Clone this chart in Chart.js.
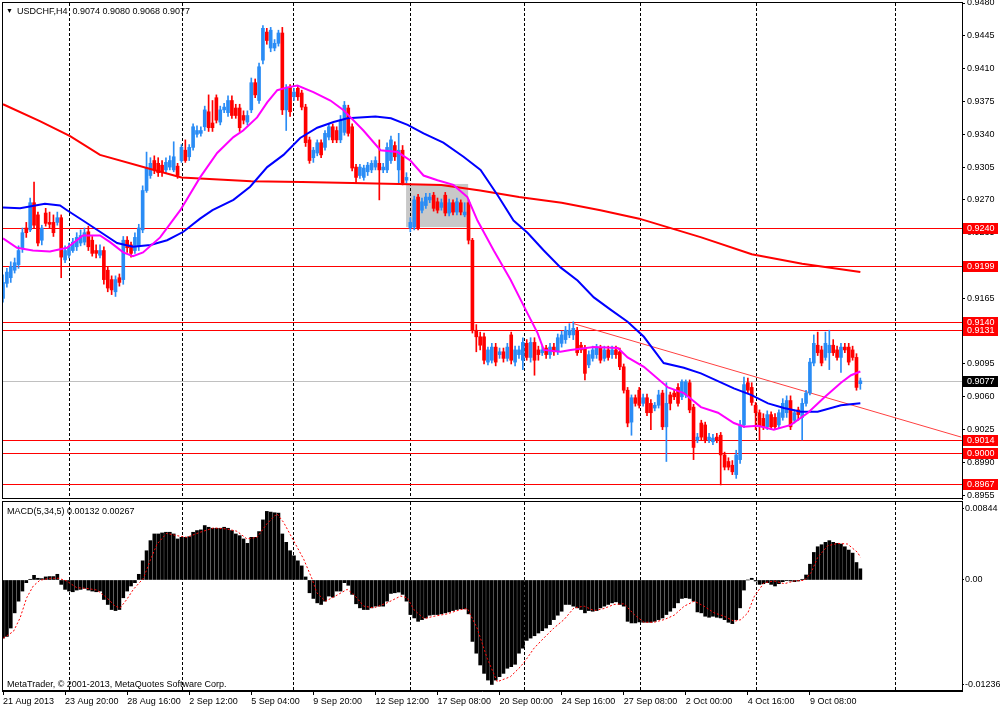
<!doctype html>
<html lang="en">
<head>
<meta charset="utf-8">
<title>USDCHF,H4</title>
<script src="https://cdn.jsdelivr.net/npm/chart.js@4.4.1/dist/chart.umd.min.js"></script>
<style>
  html, body { margin: 0; padding: 0; background: #fff; }
  #wrap { position: relative; width: 1000px; height: 709px; overflow: hidden; background: #fff; }
  canvas { position: absolute; left: 0; }
  #priceChart { top: 0; }
  #macdChart { top: 500px; }
</style>
</head>
<body>
<div id="wrap">
  <canvas id="priceChart" width="1000" height="500"></canvas>
  <canvas id="macdChart" width="1000" height="209"></canvas>
</div>
<script>
// H4 candles, bar index 0 = 21 Aug 2013
const opens = [
  0.9165,0.9181,0.9187,0.9195,0.9201,0.9219,0.9240,0.9238,0.9267,0.9254,
  0.9227,0.9256,0.9246,0.9246,0.9246,0.9251,0.9206,0.9211,0.9216,0.9220,
  0.9224,0.9225,0.9236,0.9227,0.9216,0.9211,0.9216,0.9195,0.9185,0.9172,
  0.9187,0.9185,0.9227,0.9222,0.9216,0.9220,0.9238,0.9280,0.9296,0.9312,
  0.9309,0.9307,0.9302,0.9305,0.9302,0.9306,0.9312,0.9323,0.9316,0.9326,
  0.9340,0.9341,0.9348,0.9364,0.9352,0.9379,0.9353,0.9366,0.9363,0.9376,
  0.9368,0.9368,0.9360,0.9353,0.9366,0.9395,0.9376,0.9419,0.9449,0.9432,
  0.9432,0.9437,0.9448,0.9366,0.9390,0.9380,0.9389,0.9384,0.9369,0.9334,
  0.9315,0.9320,0.9331,0.9326,0.9337,0.9348,0.9344,0.9334,0.9342,0.9368,
  0.9348,0.9305,0.9296,0.9294,0.9300,0.9302,0.9305,0.9309,0.9302,0.9302,
  0.9312,0.9328,0.9302,0.9323,0.9291,0.9240,0.9241,0.9273,0.9259,0.9264,
  0.9270,0.9275,0.9268,0.9262,0.9275,0.9256,0.9267,0.9257,0.9267,0.9254,
  0.9267,0.9227,0.9131,0.9124,0.9124,0.9097,0.9099,0.9113,0.9105,0.9108,
  0.9101,0.9126,0.9097,0.9105,0.9099,0.9117,0.9102,0.9118,0.9110,0.9107,
  0.9112,0.9105,0.9113,0.9108,0.9117,0.9121,0.9126,0.9126,0.9131,0.9115,
  0.9112,0.9094,0.9101,0.9105,0.9112,0.9101,0.9110,0.9105,0.9110,0.9108,
  0.9092,0.9067,0.9033,0.9059,0.9067,0.9053,0.9059,0.9053,0.9048,0.9051,
  0.9064,0.9028,0.9062,0.9064,0.9070,0.9060,0.9062,0.9075,0.9049,0.9014,
  0.9032,0.9030,0.9014,0.9012,0.9017,0.9019,0.8998,0.8991,0.8987,0.8977,
  0.8993,0.9030,0.9075,0.9070,0.9051,0.9043,0.9037,0.9028,0.9041,0.9038,
  0.9030,0.9038,0.9043,0.9056,0.9035,0.9046,0.9038,0.9053,0.9064,0.9096,
  0.9115,0.9110,0.9102,0.9107,0.9115,0.9110,0.9102,0.9113,0.9113,0.9110,
  0.9102,0.9074
];
const highs = [
  0.9190,0.9197,0.9204,0.9208,0.9221,0.9240,0.9246,0.9272,0.9289,0.9257,
  0.9243,0.9261,0.9257,0.9254,0.9257,0.9254,0.9221,0.9224,0.9229,0.9235,
  0.9238,0.9240,0.9242,0.9231,0.9222,0.9222,0.9220,0.9199,0.9189,0.9189,
  0.9191,0.9231,0.9231,0.9225,0.9235,0.9244,0.9285,0.9321,0.9315,0.9317,
  0.9315,0.9312,0.9315,0.9317,0.9332,0.9309,0.9329,0.9334,0.9329,0.9351,
  0.9349,0.9348,0.9370,0.9382,0.9376,0.9382,0.9370,0.9373,0.9381,0.9381,
  0.9372,0.9372,0.9365,0.9365,0.9400,0.9399,0.9416,0.9456,0.9453,0.9454,
  0.9441,0.9451,0.9454,0.9393,0.9393,0.9389,0.9392,0.9387,0.9372,0.9337,
  0.9326,0.9334,0.9334,0.9344,0.9351,0.9351,0.9348,0.9360,0.9375,0.9371,
  0.9351,0.9308,0.9308,0.9307,0.9310,0.9312,0.9316,0.9334,0.9309,0.9331,
  0.9338,0.9332,0.9341,0.9328,0.9299,0.9251,0.9274,0.9276,0.9272,0.9277,
  0.9277,0.9278,0.9272,0.9271,0.9278,0.9271,0.9270,0.9272,0.9270,0.9267,
  0.9270,0.9229,0.9137,0.9129,0.9128,0.9113,0.9117,0.9117,0.9112,0.9112,
  0.9117,0.9129,0.9114,0.9114,0.9123,0.9121,0.9123,0.9123,0.9114,0.9114,
  0.9115,0.9117,0.9117,0.9127,0.9130,0.9135,0.9138,0.9140,0.9134,0.9118,
  0.9115,0.9109,0.9114,0.9116,0.9115,0.9114,0.9114,0.9114,0.9114,0.9112,
  0.9095,0.9070,0.9062,0.9062,0.9070,0.9063,0.9063,0.9057,0.9054,0.9067,
  0.9067,0.9075,0.9065,0.9067,0.9074,0.9078,0.9078,0.9078,0.9052,0.9021,
  0.9035,0.9033,0.9021,0.9020,0.9021,0.9022,0.9001,0.8995,0.8992,0.9003,
  0.9035,0.9081,0.9080,0.9075,0.9054,0.9046,0.9042,0.9045,0.9044,0.9042,
  0.9046,0.9058,0.9061,0.9061,0.9046,0.9049,0.9058,0.9067,0.9101,0.9126,
  0.9129,0.9114,0.9129,0.9131,0.9121,0.9114,0.9117,0.9117,0.9117,0.9114,
  0.9106,0.9080
];
const lows = [
  0.9161,0.9177,0.9182,0.9192,0.9197,0.9214,0.9230,0.9236,0.9240,0.9221,
  0.9222,0.9242,0.9240,0.9231,0.9243,0.9187,0.9203,0.9208,0.9214,0.9216,
  0.9221,0.9222,0.9216,0.9210,0.9208,0.9208,0.9180,0.9172,0.9169,0.9167,
  0.9178,0.9180,0.9214,0.9209,0.9213,0.9216,0.9235,0.9278,0.9293,0.9298,
  0.9295,0.9295,0.9299,0.9302,0.9300,0.9293,0.9310,0.9310,0.9312,0.9323,
  0.9337,0.9338,0.9344,0.9343,0.9343,0.9352,0.9350,0.9363,0.9359,0.9357,
  0.9357,0.9343,0.9351,0.9350,0.9363,0.9379,0.9373,0.9415,0.9436,0.9428,
  0.9429,0.9434,0.9361,0.9344,0.9359,0.9376,0.9376,0.9366,0.9327,0.9309,
  0.9310,0.9317,0.9315,0.9323,0.9334,0.9331,0.9331,0.9331,0.9339,0.9338,
  0.9301,0.9288,0.9293,0.9291,0.9296,0.9299,0.9302,0.9270,0.9299,0.9299,
  0.9309,0.9312,0.9288,0.9286,0.9288,0.9236,0.9238,0.9238,0.9256,0.9261,
  0.9267,0.9258,0.9256,0.9259,0.9253,0.9253,0.9254,0.9254,0.9254,0.9252,
  0.9223,0.9128,0.9108,0.9110,0.9095,0.9094,0.9096,0.9093,0.9101,0.9097,
  0.9098,0.9095,0.9093,0.9101,0.9089,0.9099,0.9097,0.9083,0.9099,0.9104,
  0.9101,0.9101,0.9104,0.9105,0.9113,0.9117,0.9123,0.9121,0.9104,0.9107,
  0.9078,0.9091,0.9098,0.9101,0.9096,0.9098,0.9099,0.9101,0.9101,0.9089,
  0.9064,0.9028,0.9019,0.9050,0.9048,0.9050,0.9040,0.9025,0.9045,0.9048,
  0.9025,0.8991,0.9046,0.9057,0.9050,0.9057,0.9059,0.9043,0.8993,0.9011,
  0.9014,0.9011,0.9011,0.9009,0.9011,0.8966,0.8982,0.8982,0.8977,0.8973,
  0.8989,0.9027,0.9064,0.9051,0.9025,0.9014,0.9025,0.9025,0.9025,0.9025,
  0.9027,0.9035,0.9038,0.9025,0.9032,0.9035,0.9014,0.9050,0.9062,0.9093,
  0.9104,0.9093,0.9099,0.9089,0.9104,0.9099,0.9086,0.9107,0.9094,0.9099,
  0.9067,0.9068
];
const closes = [
  0.9182,0.9193,0.9199,0.9203,0.9216,0.9235,0.9235,0.9267,0.9243,0.9224,
  0.9240,0.9245,0.9244,0.9235,0.9251,0.9209,0.9216,0.9220,0.9225,0.9230,
  0.9232,0.9235,0.9220,0.9213,0.9213,0.9216,0.9185,0.9176,0.9174,0.9185,
  0.9182,0.9227,0.9219,0.9213,0.9230,0.9240,0.9280,0.9304,0.9309,0.9302,
  0.9299,0.9300,0.9310,0.9312,0.9316,0.9296,0.9326,0.9312,0.9326,0.9348,
  0.9344,0.9344,0.9366,0.9347,0.9347,0.9355,0.9366,0.9369,0.9376,0.9360,
  0.9360,0.9347,0.9355,0.9360,0.9395,0.9382,0.9412,0.9453,0.9440,0.9451,
  0.9437,0.9448,0.9366,0.9389,0.9364,0.9385,0.9380,0.9369,0.9331,0.9312,
  0.9323,0.9331,0.9318,0.9341,0.9348,0.9334,0.9334,0.9355,0.9371,0.9341,
  0.9304,0.9294,0.9305,0.9304,0.9307,0.9309,0.9312,0.9302,0.9305,0.9326,
  0.9334,0.9316,0.9323,0.9288,0.9294,0.9246,0.9270,0.9240,0.9268,0.9273,
  0.9273,0.9261,0.9259,0.9267,0.9256,0.9267,0.9257,0.9268,0.9257,0.9257,
  0.9227,0.9131,0.9124,0.9115,0.9099,0.9110,0.9113,0.9097,0.9108,0.9101,
  0.9113,0.9099,0.9110,0.9110,0.9118,0.9102,0.9118,0.9099,0.9105,0.9110,
  0.9105,0.9113,0.9108,0.9123,0.9126,0.9131,0.9131,0.9133,0.9107,0.9110,
  0.9085,0.9105,0.9110,0.9112,0.9099,0.9110,0.9102,0.9110,0.9105,0.9092,
  0.9067,0.9032,0.9059,0.9053,0.9051,0.9059,0.9043,0.9043,0.9051,0.9062,
  0.9028,0.9053,0.9053,0.9060,0.9053,0.9076,0.9076,0.9046,0.9006,0.9017,
  0.9017,0.9014,0.9017,0.9016,0.9014,0.8998,0.8985,0.8985,0.8980,0.8998,
  0.9030,0.9073,0.9067,0.9054,0.9043,0.9028,0.9028,0.9041,0.9028,0.9028,
  0.9043,0.9053,0.9056,0.9028,0.9043,0.9041,0.9053,0.9064,0.9097,0.9117,
  0.9107,0.9096,0.9117,0.9115,0.9107,0.9102,0.9113,0.9110,0.9097,0.9102,
  0.9070,0.9077
];

// moving averages (bar index, price)
const redMaX = [0, 9.5, 17.3, 25, 38, 46, 64, 77, 90, 102, 113, 123, 133, 144, 154, 164, 180, 193, 206, 221];
const redMaY = [0.9372, 0.9354, 0.9338, 0.9318, 0.9303, 0.9294, 0.9290, 0.9289, 0.9288, 0.9287,
                0.9286, 0.9280, 0.9273, 0.9267, 0.9259, 0.9250, 0.9230, 0.9212, 0.9202, 0.9193];
const blueMaX = [0, 4.4, 10.8, 14.7, 16.5, 20.6, 25, 29.4, 33.5, 38, 42.3, 46.5, 50.8, 54, 59.4, 63.7, 68.1,
                 72.3, 76.6, 81, 85.2, 88.8, 96, 100, 104.3, 108.4, 113.5, 118.7, 123.1, 127.5, 131.6, 135.2,
                 139.4, 143.7, 148.1, 152.3, 156.6, 161, 165.2, 170.3, 175.5, 179.9, 188.4, 192.8, 197.2,
                 201.3, 205.7, 210, 216, 221];
const blueMaY = [0.9262, 0.9261, 0.9266, 0.9264, 0.9259, 0.9248, 0.9236, 0.9224, 0.9220, 0.9222, 0.9227,
                 0.9236, 0.9250, 0.9259, 0.9270, 0.9284, 0.9305, 0.9318, 0.9336, 0.9347, 0.9353, 0.9357,
                 0.9359, 0.9357, 0.9350, 0.9341, 0.9331, 0.9316, 0.9302, 0.9275, 0.9248, 0.9235, 0.9216,
                 0.9198, 0.9184, 0.9166, 0.9153, 0.9140, 0.9124, 0.9096, 0.9091, 0.9085, 0.9069, 0.9062,
                 0.9053, 0.9048, 0.9044, 0.9044, 0.9051, 0.9053];
const magMaX = [0, 3.6, 7.7, 12.1, 16.5, 20.6, 25, 27.6, 31, 33.5, 36.1, 40.5, 45.7, 50.8, 55.2, 59.4, 61.9,
                65.5, 68.1, 70.7, 73.3, 75.9, 80, 84.4, 87.7, 92.9, 97.3, 101.7, 105, 108.4, 112, 116.1,
                119.7, 122.3, 126.5, 130.8, 135.2, 137.8, 139.4, 143.7, 146.3, 152.3, 158.5, 161, 165.2,
                171.4, 175.5, 179.9, 184.3, 188.4, 191, 194.6, 198.7, 203.1, 207.5, 211.6, 216, 218.6, 221];
const magMaY = [0.9229, 0.9219, 0.9216, 0.9215, 0.9219, 0.9232, 0.9232, 0.9225, 0.9214, 0.9210, 0.9214,
                0.9230, 0.9259, 0.9294, 0.9320, 0.9337, 0.9344, 0.9358, 0.9374, 0.9387, 0.9390, 0.9392,
                0.9385, 0.9376, 0.9366, 0.9344, 0.9323, 0.9321, 0.9312, 0.9296, 0.9291, 0.9286, 0.9273,
                0.9248, 0.9216, 0.9185, 0.9149, 0.9128, 0.9110, 0.9108, 0.9110, 0.9113, 0.9112, 0.9102,
                0.9092, 0.9070, 0.9064, 0.9049, 0.9043, 0.9032, 0.9028, 0.9029, 0.9025, 0.9030, 0.9043,
                0.9059, 0.9075, 0.9083, 0.9087];

// drawn objects
const levels = [0.9240, 0.9199, 0.9140, 0.9131, 0.9014, 0.9000, 0.8967];
const trendX = [147.1, 247];
const trendY = [0.9138, 0.9017];
const boxX = [103.9, 119.9];
const boxY = [0.9287, 0.9241];

// MACD(5,34,5)
const macdHist = [
  -0.00686,-0.00666,-0.00567,-0.00388,-0.00250,-0.00131,-0.00032,0.00008,0.00055,0.00020,
  0.00016,0.00036,0.00040,0.00040,0.00067,-0.00052,-0.00111,-0.00131,-0.00139,-0.00119,
  -0.00111,-0.00099,-0.00119,-0.00131,-0.00139,-0.00131,-0.00230,-0.00289,-0.00349,-0.00361,
  -0.00349,-0.00210,-0.00131,-0.00071,-0.00032,0.00067,0.00226,0.00345,0.00464,0.00543,
  0.00543,0.00555,0.00563,0.00563,0.00543,0.00484,0.00503,0.00503,0.00511,0.00563,
  0.00583,0.00591,0.00642,0.00622,0.00610,0.00610,0.00610,0.00622,0.00610,0.00583,
  0.00543,0.00523,0.00484,0.00432,0.00503,0.00503,0.00571,0.00709,0.00809,0.00801,
  0.00793,0.00789,0.00543,0.00444,0.00345,0.00285,0.00226,0.00166,0.00036,-0.00151,
  -0.00218,-0.00270,-0.00289,-0.00250,-0.00190,-0.00202,-0.00131,-0.00131,-0.00032,-0.00063,
  -0.00170,-0.00281,-0.00329,-0.00349,-0.00349,-0.00329,-0.00309,-0.00309,-0.00309,-0.00250,
  -0.00159,-0.00151,-0.00143,-0.00170,-0.00250,-0.00408,-0.00448,-0.00488,-0.00468,-0.00448,
  -0.00416,-0.00408,-0.00408,-0.00400,-0.00388,-0.00377,-0.00361,-0.00349,-0.00341,-0.00341,
  -0.00400,-0.00725,-0.00864,-0.01003,-0.01102,-0.01181,-0.01233,-0.01181,-0.01141,-0.01102,
  -0.01042,-0.01023,-0.00995,-0.00864,-0.00805,-0.00713,-0.00686,-0.00658,-0.00626,-0.00598,
  -0.00567,-0.00527,-0.00468,-0.00416,-0.00369,-0.00289,-0.00289,-0.00309,-0.00329,-0.00349,
  -0.00388,-0.00361,-0.00369,-0.00361,-0.00329,-0.00309,-0.00289,-0.00270,-0.00258,-0.00289,
  -0.00309,-0.00488,-0.00507,-0.00507,-0.00495,-0.00499,-0.00499,-0.00499,-0.00488,-0.00468,
  -0.00448,-0.00408,-0.00369,-0.00329,-0.00270,-0.00218,-0.00210,-0.00218,-0.00250,-0.00377,
  -0.00388,-0.00428,-0.00440,-0.00428,-0.00440,-0.00448,-0.00468,-0.00499,-0.00515,-0.00468,
  -0.00329,-0.00119,0.00000,0.00020,-0.00012,-0.00052,-0.00044,-0.00032,-0.00052,-0.00071,
  -0.00044,-0.00020,-0.00004,-0.00012,-0.00020,-0.00012,0.00008,0.00059,0.00186,0.00325,
  0.00392,0.00416,0.00444,0.00464,0.00444,0.00432,0.00424,0.00392,0.00353,0.00317,
  0.00206,0.00132
];
const signalX = [0.1, 2.7, 4.4, 6.1, 7.8, 9.5, 12.1, 14.3, 16.4, 19, 21.6, 24.2, 26.8, 28.9, 30.2, 31.9,
  33.6, 36.2, 37.9, 39.7, 42.2, 44.8, 47.4, 50.8, 54.3, 57.7, 60.3, 62.9, 65.5, 68, 70.6, 72.3, 74.9,
  77.5, 79.7, 80.9, 83.1, 85.2, 88.7, 90.4, 93, 95.6, 99, 102.5, 104.2, 105.9, 108.5, 111.1, 114.5, 118,
  119.7, 122.2, 124.8, 127.4, 130.8, 133.4, 135.1, 136.9, 139.4, 142, 144.6, 147.2, 149.8, 152.3, 154.9,
  157.5, 160.1, 162.7, 165.2, 167.8, 170.4, 173, 175.6, 178.2, 180.7, 183.3, 185.9, 188.5, 190.2, 192,
  193.7, 196.2, 198.8, 201.4, 204, 206.6, 208.3, 210, 212.6, 215.2, 217.7, 220.3, 221];
const signalY = [-0.00686, -0.00606, -0.00448, -0.00210, -0.00071, -0.00004, 0.00020, 0.00020, -0.00012,
  -0.00091, -0.00099, -0.00119, -0.00210, -0.00309, -0.00329, -0.00230, -0.00111, 0.00020, 0.00226,
  0.00424, 0.00551, 0.00523, 0.00503, 0.00563, 0.00614, 0.00602, 0.00575, 0.00484, 0.00503, 0.00662,
  0.00781, 0.00682, 0.00464, 0.00246, 0.00008, -0.00151, -0.00250, -0.00202, -0.00111, -0.00170,
  -0.00309, -0.00329, -0.00270, -0.00190, -0.00210, -0.00349, -0.00456, -0.00428, -0.00400, -0.00349,
  -0.00337, -0.00567, -0.00923, -0.01201, -0.01141, -0.01023, -0.00923, -0.00804, -0.00686, -0.00567,
  -0.00468, -0.00329, -0.00309, -0.00361, -0.00337, -0.00289, -0.00281, -0.00408, -0.00499, -0.00499,
  -0.00468, -0.00416, -0.00309, -0.00250, -0.00309, -0.00388, -0.00428, -0.00488, -0.00468, -0.00388,
  -0.00190, -0.00032, -0.00012, -0.00044, -0.00012, -0.00004, 0.00087, 0.00266, 0.00404, 0.00432,
  0.00424, 0.00325, 0.00267];

// axes
const priceTicks = [0.9480, 0.9445, 0.9410, 0.9375, 0.9340, 0.9305, 0.9270, 0.9235, 0.9200,
                    0.9165, 0.9130, 0.9095, 0.9060, 0.9025, 0.8990, 0.8955];
const macdTicks = [0.00844, 0, -0.01236];
const dateIdx = [0, 16, 32, 48, 64, 80, 96, 112, 128, 144, 160, 176, 192, 208];
const dateLabels = ['21 Aug 2013', '23 Aug 20:00', '28 Aug 16:00', '2 Sep 12:00', '5 Sep 04:00',
  '9 Sep 20:00', '12 Sep 12:00', '17 Sep 08:00', '20 Sep 00:00', '24 Sep 16:00', '27 Sep 08:00',
  '2 Oct 00:00', '4 Oct 16:00', '9 Oct 08:00'];
const gridIdx = [17, 46.1, 74.8, 104.9, 134.2, 164.1, 194.1, 229.9];
const xMin = -0.26, xMax = 247.2;

const FONT = "'Liberation Sans', Arial, sans-serif";
const FSIZE = 9;
const bull = '#2a8cf5', bear = '#ff0000';
const last = closes.length - 1;

Chart.defaults.font.family = FONT;
Chart.defaults.font.size = FSIZE;
Chart.defaults.color = '#000';

const pts = (xs, ys) => xs.map((x, i) => ({ x: x, y: ys[i] }));
const candleColor = c => closes[c.dataIndex] >= opens[c.dataIndex] ? bull : bear;
const noPad = s => { s.paddingTop = 0; s.paddingBottom = 0; s.paddingLeft = 0; s.paddingRight = 0; };

function drawTimeGrid(chart) {
  const { ctx, chartArea: a, scales: { x } } = chart;
  ctx.save();
  ctx.strokeStyle = '#000';
  ctx.lineWidth = 1;
  ctx.setLineDash([3, 2]);
  gridIdx.forEach(v => {
    const px = Math.round(x.getPixelForValue(v)) + 0.5;
    ctx.beginPath();
    ctx.moveTo(px, a.top);
    ctx.lineTo(px, a.bottom);
    ctx.stroke();
  });
  ctx.restore();
}

function drawFrame(chart) {
  const { ctx, chartArea: a } = chart;
  ctx.save();
  ctx.strokeStyle = '#000';
  ctx.lineWidth = 1;
  ctx.strokeRect(a.left + 0.5, a.top - 0.5, a.right - a.left, a.bottom - a.top);
  ctx.restore();
}

const priceDecor = {
  id: 'priceDecor',
  beforeDatasetsDraw(chart) {
    const { ctx, chartArea: a, scales: { x, y } } = chart;
    const x0 = x.getPixelForValue(boxX[0]), x1 = x.getPixelForValue(boxX[1]);
    const y0 = y.getPixelForValue(boxY[0]), y1 = y.getPixelForValue(boxY[1]);
    ctx.save();
    ctx.fillStyle = '#c8c8c8';
    ctx.fillRect(x0, y0, x1 - x0, y1 - y0);
    ctx.restore();
    drawTimeGrid(chart);
    // horizontal levels and the bid line
    ctx.save();
    ctx.lineWidth = 1;
    const hline = (price, color) => {
      const py = Math.round(y.getPixelForValue(price)) + 0.5;
      ctx.strokeStyle = color;
      ctx.beginPath();
      ctx.moveTo(a.left, py);
      ctx.lineTo(a.right, py);
      ctx.stroke();
    };
    hline(closes[last], '#c0c0c0');
    levels.forEach(p => hline(p, bear));
    ctx.restore();
  },
  afterDraw(chart) {
    const { ctx, chartArea: a, scales: { y } } = chart;
    drawFrame(chart);
    ctx.save();
    ctx.font = FSIZE + 'px ' + FONT;
    ctx.textBaseline = 'middle';
    const tag = (price, bg) => {
      const py = Math.round(y.getPixelForValue(price));
      ctx.fillStyle = bg;
      ctx.fillRect(a.right + 1, py - 5, 35, 11);
      ctx.fillStyle = '#fff';
      ctx.fillText(price.toFixed(4), a.right + 5, py + 0.5);
    };
    levels.forEach(p => tag(p, bear));
    tag(closes[last], '#000');

    ctx.fillStyle = '#000';
    ctx.textBaseline = 'alphabetic';
    ctx.font = '7px ' + FONT;
    ctx.fillText('\u25BC', 6, 13);
    ctx.font = FSIZE + 'px ' + FONT;
    ctx.fillText('USDCHF,H4  ' + [opens[last], highs[last], lows[last], closes[last]]
      .map(v => v.toFixed(4)).join(' '), 17, 14);
    ctx.restore();
  }
};

const priceChart = new Chart(document.getElementById('priceChart'), {
  type: 'bar',
  data: {
    datasets: [
      {
        type: 'line', data: pts(trendX, trendY), borderColor: '#ff4040', borderWidth: 1,
        pointRadius: 0, order: 9
      },
      {
        label: 'wick', data: lows.map((l, i) => ({ x: i, y: [l, highs[i]] })),
        backgroundColor: candleColor, barThickness: 1, grouped: false, order: 8
      },
      {
        label: 'body', data: opens.map((o, i) => ({ x: i, y: [o, closes[i]] })),
        backgroundColor: candleColor, barThickness: 3, minBarLength: 1, grouped: false, order: 7
      },
      {
        type: 'line', data: pts(redMaX, redMaY), borderColor: '#ff0000', borderWidth: 2,
        pointRadius: 0, order: 3
      },
      {
        type: 'line', data: pts(blueMaX, blueMaY), borderColor: '#0000ff', borderWidth: 2,
        pointRadius: 0, order: 2
      },
      {
        type: 'line', data: pts(magMaX, magMaY), borderColor: '#ff00ff', borderWidth: 2,
        pointRadius: 0, order: 1
      }
    ]
  },
  options: {
    responsive: false,
    animation: false,
    devicePixelRatio: 1,
    layout: { padding: { left: 2, top: 3, right: 0, bottom: 1 } },
    plugins: { legend: { display: false }, tooltip: { enabled: false } },
    scales: {
      x: {
        type: 'linear', min: xMin, max: xMax, offset: false, display: false,
        grid: { offset: false }
      },
      y: {
        type: 'linear', position: 'right', min: 0.8951, max: 0.9480, beginAtZero: false,
        afterBuildTicks: s => { s.ticks = priceTicks.map(v => ({ value: v })); },
        afterFit: s => { s.width = 38; noPad(s); },
        grid: { drawOnChartArea: false, tickLength: 3, color: '#000' },
        border: { display: true, color: '#000' },
        ticks: { padding: 2, autoSkip: false, callback: v => v.toFixed(4) }
      }
    }
  },
  plugins: [priceDecor]
});

const macdDecor = {
  id: 'macdDecor',
  beforeDatasetsDraw(chart) { drawTimeGrid(chart); },
  afterDraw(chart) {
    const { ctx } = chart;
    drawFrame(chart);
    ctx.save();
    ctx.fillStyle = '#000';
    ctx.font = FSIZE + 'px ' + FONT;
    ctx.fillText('MACD(5,34,5) ' + macdHist[last].toFixed(5) + ' ' +
      signalY[signalY.length - 1].toFixed(5), 7, 14);
    ctx.fillText('MetaTrader, \u00A9 2001-2013, MetaQuotes Software Corp.', 7, 187);
    ctx.restore();
  }
};

const macdChart = new Chart(document.getElementById('macdChart'), {
  type: 'bar',
  data: {
    datasets: [
      {
        type: 'line', data: pts(signalX, signalY), borderColor: '#ff0000', borderWidth: 1,
        borderDash: [2, 2], pointRadius: 0, order: 1
      },
      {
        data: macdHist.map((v, i) => ({ x: i, y: v })), backgroundColor: '#000',
        barThickness: 3, grouped: false, order: 2
      }
    ]
  },
  options: {
    responsive: false,
    animation: false,
    devicePixelRatio: 1,
    layout: { padding: { left: 2, top: 2, right: 0, bottom: 0 } },
    plugins: { legend: { display: false }, tooltip: { enabled: false } },
    scales: {
      x: {
        type: 'linear', min: xMin, max: xMax, offset: false, position: 'bottom',
        afterBuildTicks: s => { s.ticks = dateIdx.map(v => ({ value: v })); },
        afterFit: s => { s.height = 18; noPad(s); },
        grid: { drawOnChartArea: false, tickLength: 4, color: '#000', offset: false },
        border: { display: true, color: '#000' },
        ticks: {
          align: 'start', padding: 1, maxRotation: 0, autoSkip: false,
          callback: (v, i) => dateLabels[i]
        }
      },
      y: {
        type: 'linear', position: 'right', min: -0.0131, max: 0.0092, beginAtZero: false,
        afterBuildTicks: s => { s.ticks = macdTicks.map(v => ({ value: v })); },
        afterFit: s => { s.width = 38; noPad(s); },
        grid: { drawOnChartArea: false, tickLength: 2, color: '#000' },
        border: { display: true, color: '#000' },
        ticks: { padding: 1, autoSkip: false, callback: v => v === 0 ? '0.00' : v.toFixed(5) }
      }
    }
  },
  plugins: [macdDecor]
});
</script>
</body>
</html>
